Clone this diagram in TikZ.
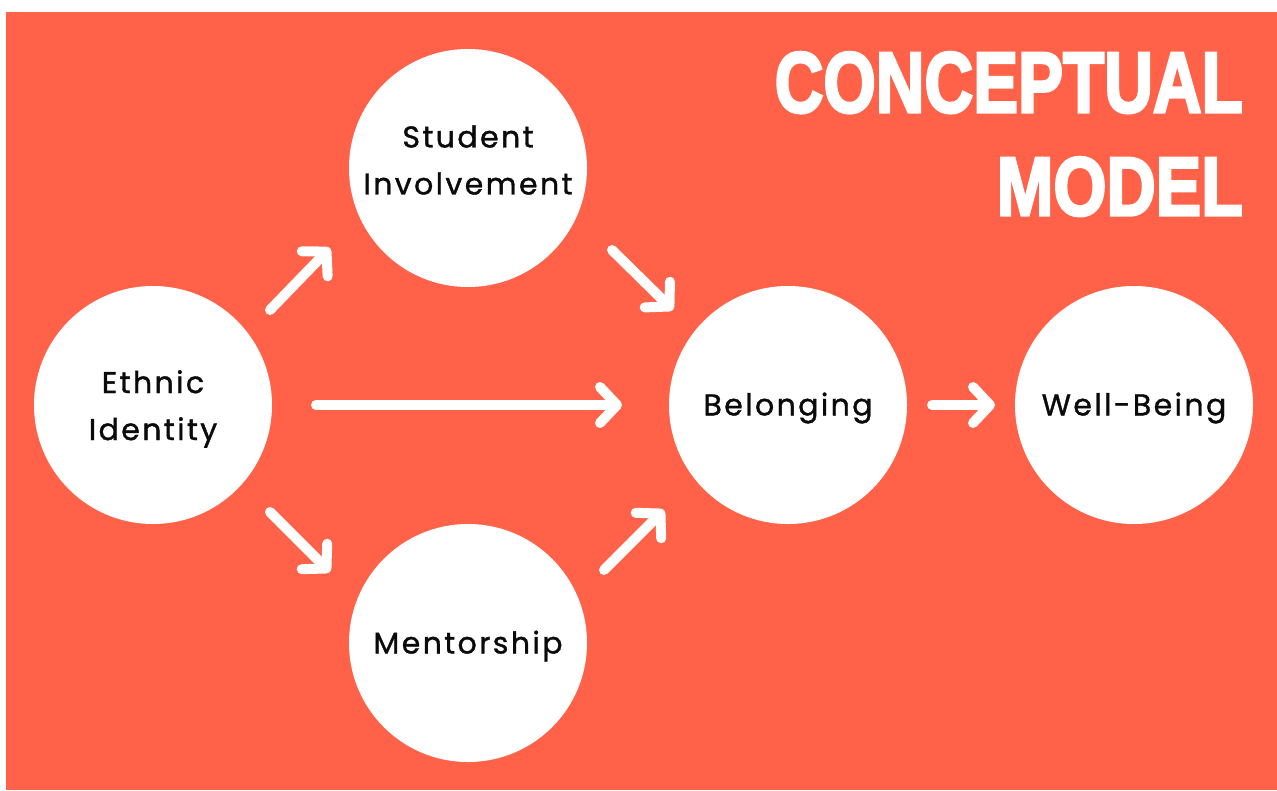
\documentclass[tikz,border=0pt]{standalone}
\usepackage{fontspec}
\setmainfont{Poppins}
\newfontfamily\titlefont[FakeBold=3.5]{Liberation Sans Bold}
\newfontfamily\labelfont[FakeBold=1.2, LetterSpace=8]{Poppins}
\usetikzlibrary{arrows.meta}
\definecolor{bgorange}{HTML}{FF6248}
\definecolor{labelink}{HTML}{0A0A0A}
\tikzset{
  concept/.style={circle, fill=white, minimum size=238pt, inner sep=0pt},
  conceptlabel/.style={align=center, text=labelink, inner sep=0pt,
    font=\labelfont\fontsize{30}{47}\selectfont},
  flow/.style={draw=white, line width=10pt, line cap=round, line join=round,
    -{Straight Barb[length=17pt, width=36pt, line cap=round, line join=round]}},
  titletext/.style={text=white, inner sep=0pt, anchor=north east}
}
\begin{document}
\begin{tikzpicture}[x=1pt, y=-1pt]
  \useasboundingbox (0,0) rectangle (1277,790);
  \fill[white] (0,0) rectangle (1277,790);
  \fill[bgorange] (6,12) rectangle (1277,790);

  % title
  \node[titletext] (title1) at (1243,52)
    {\resizebox{468pt}{60pt}{\titlefont CONCEPTUAL}};
  \node[titletext] (title2) at (1243,157)
    {\resizebox{246pt}{58pt}{\titlefont MODEL}};

  % concepts
  \node[concept, label={[conceptlabel, yshift=-4pt]center:Ethnic\\Identity}] (ethnic) at (153,405) {};
  \node[concept, label={[conceptlabel, yshift=8pt]center:Student\\Involvement}] (student) at (468,168) {};
  \node[concept, label={[conceptlabel, yshift=-3pt]center:Mentorship}] (mentor) at (468,643) {};
  \node[concept, label={[conceptlabel, yshift=-3pt]center:Belonging}] (belong) at (788,405) {};
  \node[concept, label={[conceptlabel, yshift=-3pt]center:Well-Being}] (well) at (1134,405) {};

  % paths
  \draw[flow] ([shift={(117,-95)}]ethnic.center) -- ([shift={(-138,80)}]student.center);
  \draw[flow] ([shift={(163,0)}]ethnic.center) -- ([shift={(-166,0)}]belong.center);
  \draw[flow] ([shift={(117,107)}]ethnic.center) -- ([shift={(-138,-71)}]mentor.center);
  \draw[flow] ([shift={(144,82)}]student.center) -- ([shift={(-115,-95)}]belong.center);
  \draw[flow] ([shift={(136,-73)}]mentor.center) -- ([shift={(-124,105)}]belong.center);
  \draw[flow] ([shift={(144,0)}]belong.center) -- ([shift={(-139,0)}]well.center);
\end{tikzpicture}
\end{document}
